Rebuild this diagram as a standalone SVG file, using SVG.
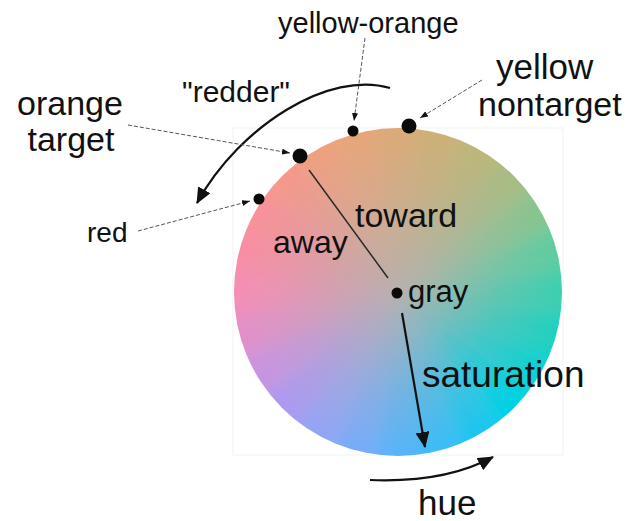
<svg xmlns="http://www.w3.org/2000/svg" width="632" height="521" viewBox="0 0 632 521">
<style>
text{font-family:"Liberation Sans",Arial,sans-serif;fill:#111}
.dot{fill:#0a0a0a}
.lead{fill:none;stroke:#555;stroke-width:1;stroke-dasharray:4 2}
.big{fill:none;stroke:#111;stroke-width:2.2}
</style>
<defs>
<clipPath id="cc"><circle cx="398" cy="292" r="164"/></clipPath>
<filter id="bl" x="-20%" y="-20%" width="140%" height="140%"><feGaussianBlur stdDeviation="9"/></filter>
<radialGradient id="gr" cx="398" cy="292" r="164" gradientUnits="userSpaceOnUse">
<stop offset="0" stop-color="#b6b0ae" stop-opacity="0.92"/>
<stop offset="0.25" stop-color="#b6b0ae" stop-opacity="0.7"/>
<stop offset="0.6" stop-color="#b6b0ae" stop-opacity="0.3"/>
<stop offset="0.97" stop-color="#b6b0ae" stop-opacity="0"/>
</radialGradient>
<marker id="ah" viewBox="0 0 16 14" markerWidth="16" markerHeight="14" refX="15" refY="7" orient="auto" markerUnits="userSpaceOnUse"><path d="M0,0 L16,7 L0,14 Z" fill="#111"/></marker>
<marker id="sh" viewBox="0 0 8 6" markerWidth="8" markerHeight="6" refX="8" refY="3" orient="auto" markerUnits="userSpaceOnUse"><path d="M0,0 L8,3 L0,6 Z" fill="#111"/></marker>
</defs>
<rect x="233" y="128" width="330" height="327" fill="none" stroke="#f2f2f2" stroke-width="1"/>
<g id="wheel" clip-path="url(#cc)">
<g filter="url(#bl)">
<polygon points="398,292 626.03,261.98 626.03,322.02" fill="#3ccfb0"/>
<polygon points="398,292 626.03,322.02 610.49,380.02" fill="#22d0c0"/>
<polygon points="398,292 610.49,380.02 580.47,432.01" fill="#10d2d2"/>
<polygon points="398,292 580.47,432.01 538.01,474.47" fill="#00d2e4"/>
<polygon points="398,292 538.01,474.47 486.02,504.49" fill="#1cc6f0"/>
<polygon points="398,292 486.02,504.49 428.02,520.03" fill="#3cbcf6"/>
<polygon points="398,292 428.02,520.03 367.98,520.03" fill="#58b4f8"/>
<polygon points="398,292 367.98,520.03 309.98,504.49" fill="#78acf8"/>
<polygon points="398,292 309.98,504.49 257.99,474.47" fill="#94a4f4"/>
<polygon points="398,292 257.99,474.47 215.53,432.01" fill="#ac9af0"/>
<polygon points="398,292 215.53,432.01 185.51,380.02" fill="#c894e0"/>
<polygon points="398,292 185.51,380.02 169.97,322.02" fill="#e290c8"/>
<polygon points="398,292 169.97,322.02 169.97,261.98" fill="#f48eb4"/>
<polygon points="398,292 169.97,261.98 185.51,203.98" fill="#f88ea4"/>
<polygon points="398,292 185.51,203.98 215.53,151.99" fill="#f89298"/>
<polygon points="398,292 215.53,151.99 257.99,109.53" fill="#f4988c"/>
<polygon points="398,292 257.99,109.53 309.98,79.51" fill="#eea080"/>
<polygon points="398,292 309.98,79.51 367.98,63.97" fill="#e6a67a"/>
<polygon points="398,292 367.98,63.97 428.02,63.97" fill="#daaa78"/>
<polygon points="398,292 428.02,63.97 486.02,79.51" fill="#ccb078"/>
<polygon points="398,292 486.02,79.51 538.01,109.53" fill="#bcb67c"/>
<polygon points="398,292 538.01,109.53 580.47,151.99" fill="#a8bc84"/>
<polygon points="398,292 580.47,151.99 610.49,203.98" fill="#88c490"/>
<polygon points="398,292 610.49,203.98 626.03,261.98" fill="#60cca0"/>
</g>
<circle cx="398" cy="292" r="164" fill="url(#gr)"/>
</g>
<g id="connectors">
<path class="big" d="M390,88 C330,70 240,125 197,203" marker-end="url(#ah)"/>
<path d="M309,170 L388,278" fill="none" stroke="#2a2a2a" stroke-width="1.5"/>
<path class="big" d="M402,313 L425,447" stroke-width="2" marker-end="url(#ah)"/>
<path class="big" d="M370,480 Q445,483 493,457" marker-end="url(#ah)"/>
<path class="lead" d="M128,125 L290,153" marker-end="url(#sh)"/>
<path class="lead" d="M138,231 L250,201" marker-end="url(#sh)"/>
<path class="lead" d="M365,38 L354,121" marker-end="url(#sh)"/>
<path class="lead" d="M482,80 L420,118" marker-end="url(#sh)"/>
</g>
<g id="orange-target"><circle class="dot" cx="300" cy="156" r="7.5"/><text x="70" y="115" font-size="34" text-anchor="middle">orange</text><text x="71" y="151" font-size="34" text-anchor="middle">target</text></g>
<g id="red"><circle class="dot" cx="259" cy="199" r="5.5"/><text x="87" y="242" font-size="28">red</text></g>
<g id="yellow-orange"><circle class="dot" cx="353" cy="131" r="5.5"/><text x="278" y="33" font-size="29">yellow-orange</text></g>
<g id="yellow-nontarget"><circle class="dot" cx="409" cy="126" r="7.5"/><text x="496" y="79" font-size="35">yellow</text><text x="478" y="116" font-size="34">nontarget</text></g>
<g id="gray"><circle class="dot" cx="397" cy="293" r="5.5"/><text x="408" y="302" font-size="31">gray</text></g>
<g id="labels">
<text x="182" y="102" font-size="30">"redder"</text>
<text x="273" y="253" font-size="32">away</text>
<text x="355" y="227" font-size="34">toward</text>
<text x="422" y="387" font-size="37">saturation</text>
<text x="418" y="515" font-size="35">hue</text>
</g>
</svg>
